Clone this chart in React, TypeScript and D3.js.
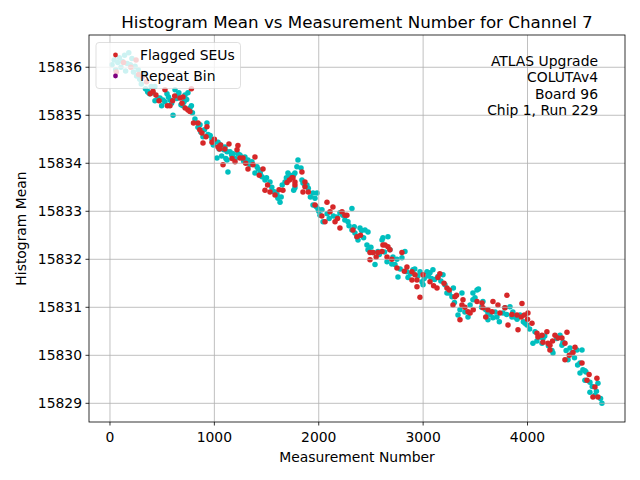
import React from "react";
import * as d3 from "d3";

// Measurement number, histogram mean for regular bins
const binPoints: [number, number][] = [
  [20,15836.05],[40,15836.15],[55,15835.95],[75,15836.1],[90,15836.2],[105,15836.0],[120,15836.12],[140,15836.25],[150,15835.92],[165,15836.08],[180,15836.3],[195,15836.05],[210,15836.18],[225,15835.9],[240,15836.02],[255,15835.82],[270,15835.95],[285,15835.75],[300,15835.65],[320,15835.85],[340,15835.55],[360,15835.5],[380,15835.45],[395,15835.6],
  [364,15835.48],[412,15835.47],[431,15835.3],[460,15835.36],[479,15835.36],[508,15835.32],[527,15835.28],[546,15835.45],[575,15835.32],[604,15835.0],[623,15835.53],[640,15835.35],[660,15835.47],[680,15835.22],[699,15835.2],[719,15835.42],[747,15835.47],[766,15835.15],[790,15835.05],
  [430,15835.6],[495,15835.2],[560,15835.38],[590,15835.25],[650,15835.42],[710,15835.28],[735,15835.33],[780,15835.2],
  [814,15834.92],[843,15834.75],[862,15834.8],[891,15834.55],[929,15834.84],[939,15834.6],[977,15834.5],[1006,15834.45],[1035,15834.44],[1060,15834.38],[1102,15834.34],[1121,15834.24],[1150,15834.24],[1025,15834.11],[1070,15834.15],[1121,15834.07],[1130,15833.82],[1180,15834.2],
  [870,15834.65],[905,15834.7],[960,15834.58],[990,15834.38],[1045,15834.3],[1090,15834.28],[1110,15834.1],[1165,15834.18],[1200,15834.1],
  [1226,15834.2],[1245,15834.17],[1260,15834.13],[1293,15834.13],[1322,15834.07],[1360,15834.03],[1408,15833.93],[1420,15833.88],[1389,15833.8],[1456,15833.72],[1485,15833.65],[1533,15833.61],[1581,15833.4],[1609,15833.27],[1629,15833.19],[1640,15833.3],[1677,15833.61],[1705,15833.8],[1724,15833.75],[1772,15833.8],[1791,15833.93],[1801,15834.07],[1760,15833.44],[1550,15833.5],[1650,15833.55],
  [1280,15834.05],[1340,15833.97],[1440,15833.8],[1500,15833.7],[1560,15833.42],[1600,15833.35],[1690,15833.7],
  [1830,15833.9],[1760,15833.76],[1839,15833.65],[1849,15833.59],[1772,15833.49],[1868,15833.55],[1887,15833.55],[1945,15833.38],[1983,15833.38],[1964,15833.27],[1945,15833.13],[1975,15833.1],[1993,15833.05],[2012,15832.92],[2031,15833.03],[2041,15832.78],[2080,15832.95],[2175,15832.88],[2203,15832.97],[2230,15832.92],[2280,15832.78],[2318,15833.06],[2318,15832.61],[2347,15832.55],[2395,15832.65],[2410,15832.6],[2443,15832.61],[2472,15832.57],[2366,15832.47],[2376,15832.4],
  [1900,15833.48],[1920,15833.3],[2000,15833.0],[2100,15832.85],[2140,15832.9],[2250,15832.82],[2290,15832.7],[2340,15832.68],[2430,15832.45],
  [2462,15832.3],[2472,15832.2],[2520,15832.14],[2539,15831.89],[2567,15832.16],[2606,15832.4],[2615,15832.45],[2663,15832.47],[2682,15832.2],[2654,15831.95],[2711,15832.05],[2730,15831.89],[2749,15832.0],[2797,15832.03],[2826,15832.16],[2759,15831.63],[2845,15831.74],[2855,15831.62],[2903,15831.78],[2920,15831.8],[2970,15831.74],[2989,15831.53],[2999,15831.47],
  [2500,15832.25],[2580,15832.1],[2630,15832.15],[2700,15831.9],[2780,15831.8],[2880,15831.7],[2950,15831.65],
  [3037,15831.74],[3066,15831.72],[3094,15831.78],[3080,15831.6],[3110,15831.58],[3142,15831.64],[3190,15831.68],[3209,15831.47],[3228,15831.3],[3276,15831.22],[3372,15831.3],[3477,15831.16],[3516,15831.36],[3334,15830.84],[3353,15830.95],[3430,15830.8],[3290,15831.4],
  [3010,15831.6],[3050,15831.65],[3170,15831.55],[3250,15831.3],[3300,15831.1],[3400,15830.9],[3450,15831.05],
  [3530,15831.38],[3477,15831.3],[3497,15831.2],[3573,15831.12],[3621,15830.88],[3669,15830.78],[3621,15830.74],[3707,15830.8],[3765,15830.88],[3784,15830.99],[3832,15831.01],[3851,15830.8],[3880,15830.8],[3928,15830.84],[3976,15830.67],[3995,15830.63],[4072,15830.49],
  [3560,15831.0],[3600,15830.95],[3640,15830.85],[3690,15830.9],[3730,15830.7],[3800,15830.85],[3860,15830.9],[3900,15830.75],[3960,15830.7],
  [4052,15830.25],[4120,15830.38],[4139,15830.25],[4148,15830.35],[4165,15830.4],[4234,15830.1],[4244,15830.05],[4311,15830.42],[4340,15830.27],[4330,15830.21],[4407,15830.15],[4426,15830.05],[4474,15830.11],[4522,15830.11],[4388,15829.91],[4503,15829.84],[4531,15829.7],[4550,15829.68],[4560,15829.65],[4503,15829.63],[4550,15829.48],[4598,15829.44],[4598,15829.23],[4675,15829.42],[4646,15829.17],[4713,15829.0],[4700,15829.1],
  [4020,15830.55],[4090,15830.3],[4200,15830.2],[4280,15830.35],[4370,15830.1],[4450,15829.95],[4480,15829.8],[4620,15829.35],[4660,15829.25],
];

// Measurement number, histogram mean for flagged SEUs
const flaggedPoints: [number, number][] = [
  [60,15835.9],[130,15836.1],[200,15836.0],[250,15836.15],[275,15835.85],[310,15835.8],[350,15835.7],[385,15835.45],
  [412,15835.5],[440,15835.42],[527,15835.53],[550,15835.2],[575,15835.2],[600,15835.3],[671,15835.36],[699,15835.38],[720,15835.15],[747,15835.11],[766,15835.08],[780,15835.55],[800,15834.84],
  [470,15835.3],[620,15835.4],[690,15835.25],
  [843,15834.84],[881,15834.63],[891,15834.42],[929,15834.76],[920,15834.55],[977,15834.44],[1035,15834.34],[1060,15834.38],[1050,15834.3],[1083,15833.97],[1169,15834.1],[1198,15834.03],[1140,15834.4],
  [860,15834.7],[1000,15834.5],[1100,15834.3],
  [1226,15834.37],[1217,15834.28],[1245,15834.11],[1274,15834.11],[1322,15833.88],[1389,15834.13],[1370,15833.97],[1466,15833.88],[1485,15833.44],[1510,15833.55],[1533,15833.4],[1581,15833.34],[1657,15833.44],[1696,15833.6],[1744,15833.7],[1772,15833.55],[1839,15833.82],[1849,15833.4],[1720,15833.65],
  [1300,15834.0],[1430,15833.75],[1620,15833.45],
  [1753,15833.7],[1772,15833.61],[1868,15833.61],[1868,15833.51],[1964,15833.13],[2079,15833.19],[2108,15832.99],[2136,15833.09],[2060,15832.78],[2156,15832.78],[2203,15832.65],[2223,15832.99],[2251,15832.92],[2270,15832.92],[2328,15832.61],[2366,15832.47],
  [1900,15833.4],[2030,15832.9],[2180,15832.85],[2400,15832.5],
  [2491,15832.14],[2520,15832.14],[2491,15831.99],[2567,15832.14],[2606,15832.16],[2615,15832.3],[2635,15832.3],[2654,15832.05],[2663,15832.26],[2682,15832.2],[2749,15831.82],[2797,15832.14],[2845,15831.84],[2893,15831.74],[2922,15831.68],[2893,15831.57],[2941,15831.57],[2941,15831.43],[2970,15831.21],
  [2550,15832.05],[2700,15832.0],[2820,15831.75],
  [2999,15831.68],[3066,15831.53],[3142,15831.62],[3160,15831.7],[3133,15831.4],[3228,15831.4],[3250,15831.36],[3305,15831.22],[3320,15831.25],[3382,15831.16],[3286,15831.05],[3372,15831.05],[3400,15831.0],[3430,15830.91],[3450,15830.88],[3353,15830.74],[3516,15831.12],
  [3100,15831.45],[3200,15831.5],[3480,15830.95],
  [3564,15831.09],[3669,15831.12],[3573,15830.99],[3621,15830.95],[3660,15830.91],[3717,15831.05],[3736,15830.88],[3803,15831.25],[3784,15830.99],[3813,15830.63],[3899,15830.84],[3947,15831.08],[3909,15830.53],[3940,15830.8],[3970,15830.84],[4004,15830.88],
  [3600,15830.8],[3850,15830.85],[4000,15830.75],
  [4043,15830.67],[4091,15830.46],[4100,15830.38],[4139,15830.42],[4186,15830.49],[4148,15830.27],[4196,15830.25],[4215,15830.21],[4215,15830.11],[4263,15830.42],[4292,15830.36],[4330,15830.36],[4378,15830.48],[4359,15830.25],[4436,15830.06],[4455,15830.17],[4359,15829.91],[4522,15829.84],[4570,15829.48],[4665,15829.52],[4646,15829.34],[4627,15829.13],[4675,15829.13],[4240,15830.3],
  [4400,15830.0],[4590,15829.6],
];

const xTicks = [0, 1000, 2000, 3000, 4000];
const yTicks = [15829, 15830, 15831, 15832, 15833, 15834, 15835, 15836];
const legendLabels = ["Flagged SEUs", "Repeat Bin"];
const infoLines = ["ATLAS Upgrade", "COLUTAv4", " Board 96", "Chip 1, Run 229"];
const title = "Histogram Mean vs Measurement Number for Channel 7";

const W = 640, H = 480;
const M = { left: 89, right: 625, top: 35, bottom: 422 };
const FONT = "DejaVu Sans, sans-serif";

export default function App() {
  const x = d3.scaleLinear().domain([-201, 4934]).range([M.left, M.right]);
  const y = d3.scaleLinear().domain([15828.611, 15836.672]).range([M.bottom, M.top]);
  const cyan = "#00bfbf";
  const red = "#d62728";
  const purple = "#800080";
  const r = 2.75;
  return (
    <svg width={W} height={H} style={{ position: "absolute", left: 0, top: 0, background: "#fff" }} fontFamily={FONT}>
      <rect x={0} y={0} width={W} height={H} fill="#fff" />
      <g>
        {binPoints.map((p, i) => (
          <circle key={"b" + i} cx={x(p[0])} cy={y(p[1])} r={r} fill={cyan} />
        ))}
        {flaggedPoints.map((p, i) => (
          <circle key={"f" + i} cx={x(p[0])} cy={y(p[1])} r={r} fill={red} />
        ))}
      </g>
      <g stroke="#b0b0b0" strokeWidth={0.8}>
        {xTicks.map((t) => (
          <line key={"gx" + t} x1={x(t)} x2={x(t)} y1={M.top} y2={M.bottom} />
        ))}
        {yTicks.map((t) => (
          <line key={"gy" + t} x1={M.left} x2={M.right} y1={y(t)} y2={y(t)} />
        ))}
      </g>
      <rect x={M.left} y={M.top} width={M.right - M.left} height={M.bottom - M.top} fill="none" stroke="#000" strokeWidth={0.8} />
      <g stroke="#000" strokeWidth={0.8}>
        {xTicks.map((t) => (
          <line key={"tx" + t} x1={x(t)} x2={x(t)} y1={M.bottom} y2={M.bottom + 3.5} />
        ))}
        {yTicks.map((t) => (
          <line key={"ty" + t} x1={M.left - 3.5} x2={M.left} y1={y(t)} y2={y(t)} />
        ))}
      </g>
      <g fontSize={13.9} fill="#000">
        {xTicks.map((t) => (
          <text key={"lx" + t} x={x(t)} y={M.bottom + 20} textAnchor="middle">{String(t)}</text>
        ))}
        {yTicks.map((t) => (
          <text key={"ly" + t} x={M.left - 7} y={y(t)} dy="0.35em" textAnchor="end">{String(t)}</text>
        ))}
      </g>
      <text x={(M.left + M.right) / 2} y={462} textAnchor="middle" fontSize={13.9}>Measurement Number</text>
      <text transform={`translate(26,${(M.top + M.bottom) / 2}) rotate(-90)`} textAnchor="middle" fontSize={13.9}>Histogram Mean</text>
      <text x={(M.left + M.right) / 2} y={28} textAnchor="middle" fontSize={16.7}>{title}</text>
      <g fontSize={13.9} textAnchor="end">
        {infoLines.map((s, i) => (
          <text key={"i" + i} x={598} y={66 + i * 16.3} style={{ whiteSpace: "pre" }}>{s}</text>
        ))}
      </g>
      <g>
        <rect x={96} y={42.5} width={144.5} height={46} rx={3} fill="#fff" fillOpacity={0.8} stroke="#cccccc" strokeOpacity={0.8} strokeWidth={0.8} />
        <circle cx={115.5} cy={55} r={2.4} fill={red} />
        <circle cx={115.5} cy={76} r={2.4} fill={purple} />
        <text x={140} y={55} dy="0.35em" fontSize={13.9}>{legendLabels[0]}</text>
        <text x={140} y={76} dy="0.35em" fontSize={13.9}>{legendLabels[1]}</text>
      </g>
    </svg>
  );
}
